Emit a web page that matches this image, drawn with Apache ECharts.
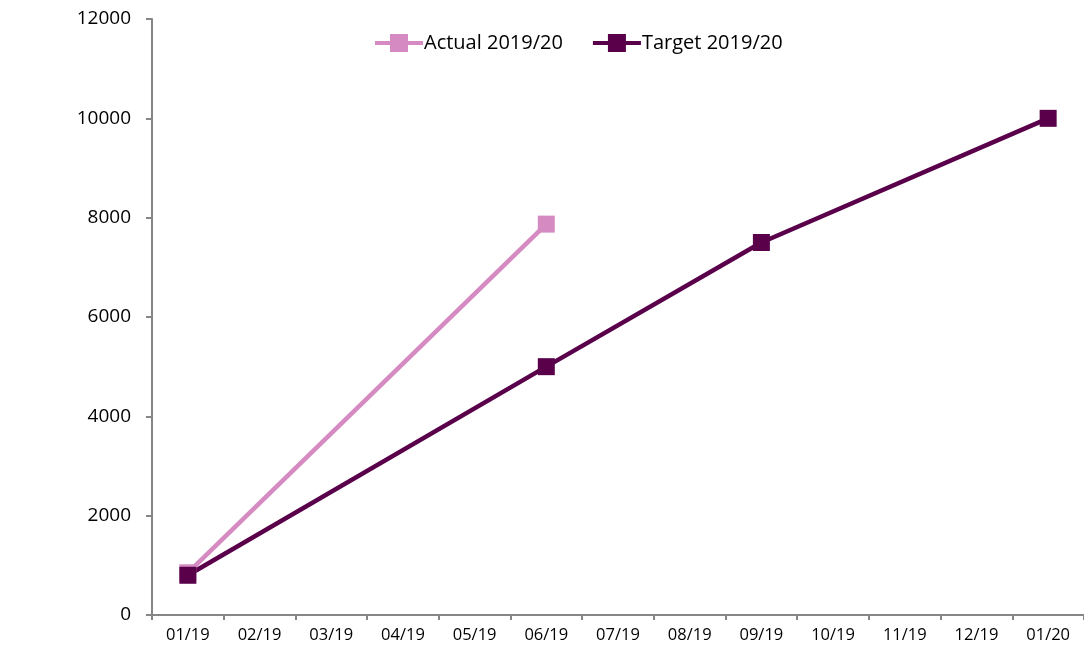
<!DOCTYPE html>
<html>
<head>
<meta charset="utf-8">
<script src="https://cdn.jsdelivr.net/npm/echarts@6/dist/echarts.min.js"></script>
<style>html,body{margin:0;padding:0;background:#fff;}#c{width:1084px;height:650px;}</style>
</head>
<body>
<div id="c"></div>
<script>
var categories = ['01/19','02/19','03/19','04/19','05/19','06/19','07/19','08/19','09/19','10/19','11/19','12/19','01/20'];
var actualValues = [850, null, null, null, null, 7870, null, null, null, null, null, null, null];
var targetValues = [800, null, null, null, null, 5000, null, null, 7500, null, null, null, 10000];
var yTicks = [0, 2000, 4000, 6000, 8000, 10000, 12000];

var FONT = 'Open Sans';
var legendIcon = 'path://M0,7L15,7L15,0L33,0L33,7L48,7L48,11L33,11L33,18L15,18L15,11L0,11Z';
var chart = echarts.init(document.getElementById('c'));
chart.setOption({
  animation: false,
  backgroundColor: '#fff',
  grid: {left: 152, right: 0, top: 19, bottom: 35, containLabel: false},
  legend: {
    top: 28, left: 370,
    itemWidth: 48, itemHeight: 18, itemGap: 30,
    icon: legendIcon,
    textStyle: {fontFamily: FONT, fontSize: 20, color: '#000', padding: [0,0,0,-4]},
    data: ['Actual 2019/20', 'Target 2019/20']
  },
  xAxis: {
    type: 'category', data: categories, boundaryGap: true,
    axisLine: {lineStyle: {color: '#868686', width: 2}},
    axisTick: {show: true, length: 5, alignWithLabel: false, lineStyle: {color: '#868686', width: 2}},
    axisLabel: {fontFamily: FONT, fontSize: 16.5, color: '#000', margin: 12, interval: 0},
    splitLine: {show: false}
  },
  yAxis: {
    type: 'value', min: yTicks[0], max: yTicks[yTicks.length-1], interval: 2000,
    axisLine: {show: true, lineStyle: {color: '#868686', width: 2}},
    axisTick: {show: true, length: 6, lineStyle: {color: '#868686', width: 2}},
    axisLabel: {fontFamily: FONT, fontSize: 19, color: '#000', margin: 21, formatter: function(v){return String(v);}},
    splitLine: {show: false}
  },
  series: [
    {
      name: 'Actual 2019/20', type: 'line', data: actualValues, connectNulls: true,
      symbol: 'rect', symbolSize: 17,
      lineStyle: {color: '#D58BC1', width: 4.5},
      itemStyle: {color: '#D58BC1'}
    },
    {
      name: 'Target 2019/20', type: 'line', data: targetValues, connectNulls: true,
      symbol: 'rect', symbolSize: 17,
      lineStyle: {color: '#5A004B', width: 4.5},
      itemStyle: {color: '#5A004B'}
    }
  ]
});
</script>
</body>
</html>
